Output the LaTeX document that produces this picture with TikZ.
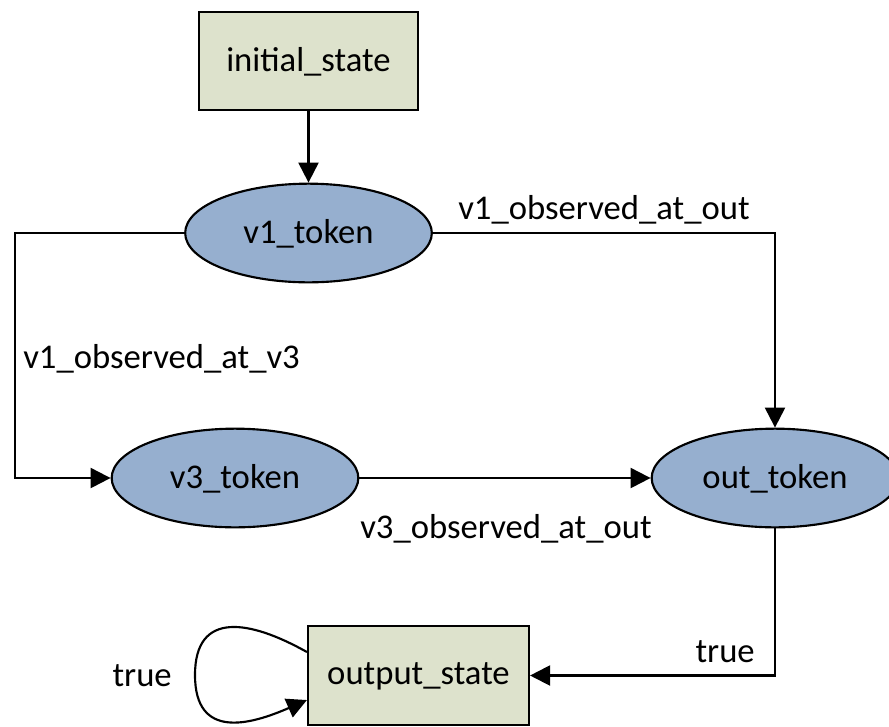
\documentclass[tikz,border=0pt]{standalone}
\usepackage{fontspec}
\setmainfont{Carlito}
\usetikzlibrary{arrows.meta,shapes.geometric}
\definecolor{statefill}{RGB}{221,226,204}
\definecolor{tokenfill}{RGB}{150,175,207}
\tikzset{
  every node/.style={font=\fontsize{26pt}{30pt}\selectfont},
  statebox/.style={draw, line width=1.6pt, fill=statefill, inner sep=0pt,
    minimum width=164pt, minimum height=74pt, text depth=3pt},
  token/.style={ellipse, draw, line width=1.6pt, fill=tokenfill, inner sep=0pt,
    minimum width=185pt, minimum height=74pt, text depth=3pt},
  arr/.style={line width=1.6pt, -{Triangle[length=15pt,width=15pt]}},
  lbl/.style={inner sep=0pt}
}
\begin{document}
\begin{tikzpicture}[x=0.75pt,y=-0.75pt]
  \useasboundingbox (0,0) rectangle (889,726);
  \begin{scope}
  \clip (0,0) rectangle (889,726);

  % states and tokens
  \node[statebox] (init) at (308.5,61) {initial\_state};
  \node[token] (v1) at (308.5,233) {v1\_token};
  \node[token] (v3) at (235,478) {v3\_token};
  \node[token] (out) at (775,478) {out\_token};
  \node[statebox, minimum width=165.75pt] (outst) at (418.5,675.5) {output\_state};

  % corner of the left-hand route
  \coordinate (lc) at (15,233);

  % transitions
  \draw[arr] (init) -- (v1);
  \draw[arr] (v1.west) -- (lc) |- (v3.west);
  \draw[arr] (v1.east) -| (out.north);
  \draw[arr] (v3) -- (out);
  \draw[arr] (out.south) |- (outst.east);
  \draw[arr] ([yshift=17.6pt]outst.west)
     .. controls (250,620) and (195,610) .. (195,675)
     .. controls (195,740) and (250,725) .. ([yshift=-18.4pt]outst.west);

  % transition labels
  \node[lbl, anchor=base west] (l13) at (23,368) {v1\_observed\_at\_v3};
  \node[lbl, anchor=base west] (l1o) at (458,219) {v1\_observed\_at\_out};
  \node[lbl, anchor=base west] (l3o) at (360,538) {v3\_observed\_at\_out};
  \node[lbl, anchor=base east] (lt1) at (755,662) {true};
  \node[lbl, anchor=base east] (lt2) at (172,686) {true};
  \end{scope}
\end{tikzpicture}
\end{document}
